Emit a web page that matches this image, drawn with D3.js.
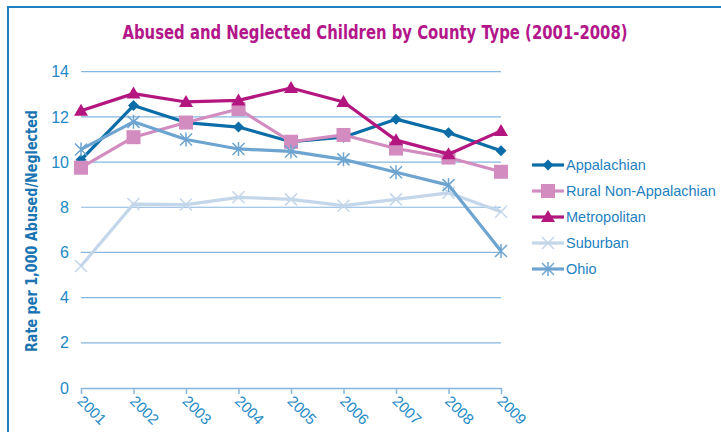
<!DOCTYPE html>
<html lang="en">
<head>
  <meta charset="utf-8">
  <title>Abused and Neglected Children by County Type</title>
  <script src="https://d3js.org/d3.v7.min.js"></script>
  <style>
    body { margin: 0; background: #fff; }
    svg { display: block; }
  </style>
</head>
<body>
  <svg width="721" height="432"></svg>
  <script>
    // values
    const years = [2001, 2002, 2003, 2004, 2005, 2006, 2007, 2008, 2009];
    const appalachian = [10.1, 12.5, 11.75, 11.55, 10.9, 11.1, 11.9, 11.3, 10.5];
    const ruralNonApp = [9.75, 11.1, 11.75, 12.35, 10.9, 11.2, 10.6, 10.2, 9.57];
    const metropolitan = [12.27, 13.03, 12.66, 12.73, 13.28, 12.66, 10.97, 10.35, 11.38];
    const suburban = [5.4, 8.14, 8.12, 8.44, 8.35, 8.07, 8.35, 8.64, 7.8];
    const ohio = [10.56, 11.78, 11.0, 10.58, 10.47, 10.12, 9.55, 8.98, 6.06];
    const yTicks = [0, 2, 4, 6, 8, 10, 12, 14];

    const series = [
      { name: "Appalachian", values: appalachian, color: "#0b6da8", marker: "diamond" },
      { name: "Rural Non-Appalachian", values: ruralNonApp, color: "#d28cbf", marker: "square" },
      { name: "Metropolitan", values: metropolitan, color: "#b3167f", marker: "triangle" },
      { name: "Suburban", values: suburban, color: "#c3d6ea", marker: "x" },
      { name: "Ohio", values: ohio, color: "#6ea4d0", marker: "star" }
    ];

    const svg = d3.select("svg");
    const textBlue = "#2389c6";
    const gridBlue = "#86b6dc";
    const narrow = "'DejaVu Sans Condensed', 'Liberation Sans', sans-serif";

    // frame
    svg.append("path")
      .attr("d", "M8,440 V7 H730")
      .attr("fill", "none")
      .attr("stroke", "#1f7fc0")
      .attr("stroke-width", 2);

    svg.append("text")
      .attr("x", 375).attr("y", 39)
      .attr("text-anchor", "middle")
      .attr("font-family", narrow)
      .attr("font-weight", "bold")
      .attr("font-size", 19)
      .attr("textLength", 505)
      .attr("lengthAdjust", "spacingAndGlyphs")
      .attr("fill", "#b3168a")
      .text("Abused and Neglected Children by County Type (2001-2008)");

    const x = d3.scalePoint().domain(years).range([81, 501]);
    const y = d3.scaleLinear().domain([0, 14]).range([388, 71.7]);

    // grid
    svg.append("g")
      .selectAll("line")
      .data(yTicks.filter(d => d > 0))
      .join("line")
      .attr("x1", 81).attr("x2", 501)
      .attr("y1", d => y(d)).attr("y2", d => y(d))
      .attr("stroke", gridBlue)
      .attr("stroke-width", 1.2);

    // y axis labels
    const yAxis = svg.append("g")
      .attr("transform", "translate(81,0)")
      .call(d3.axisLeft(y).tickValues(yTicks).tickSize(0).tickPadding(12));
    yAxis.select(".domain").remove();
    yAxis.selectAll("text")
      .attr("font-family", "'Liberation Sans', Arial, sans-serif")
      .attr("font-size", 16)
      .attr("fill", textBlue);

    // x axis
    const xAxis = svg.append("g")
      .attr("transform", "translate(0,388)")
      .call(d3.axisBottom(x).tickSizeOuter(0).tickSizeInner(6).tickFormat(d3.format("d")));
    xAxis.select(".domain").attr("stroke", gridBlue).attr("stroke-width", 1.5);
    xAxis.selectAll("line").attr("stroke", gridBlue).attr("stroke-width", 1.5);
    xAxis.selectAll("text")
      .attr("font-family", "'Liberation Sans', Arial, sans-serif")
      .attr("font-size", 15)
      .attr("fill", textBlue)
      .attr("text-anchor", "start")
      .attr("dy", null)
      .attr("y", 0)
      .attr("transform", "translate(-5,14) rotate(45)");

    // y axis title
    svg.append("text")
      .attr("transform", "translate(37,231) rotate(-90)")
      .attr("text-anchor", "middle")
      .attr("font-family", narrow)
      .attr("font-weight", "bold")
      .attr("font-size", 16)
      .attr("textLength", 242)
      .attr("lengthAdjust", "spacingAndGlyphs")
      .attr("fill", "#1b74b2")
      .text("Rate per 1,000 Abused/Neglected");

    function drawMarker(g, type, color) {
      if (type === "diamond") {
        g.append("path").attr("d", "M0,-5.5 L5.5,0 L0,5.5 L-5.5,0 Z").attr("fill", color);
      } else if (type === "square") {
        g.append("rect").attr("x", -7).attr("y", -7).attr("width", 14).attr("height", 14).attr("fill", color);
      } else if (type === "triangle") {
        g.append("path").attr("d", "M0,-7 L7,5 L-7,5 Z").attr("fill", color);
      } else if (type === "x") {
        g.append("path").attr("d", "M-6,-6 L6,6 M-6,6 L6,-6").attr("stroke", color).attr("stroke-width", 1.5);
      } else if (type === "star") {
        g.append("path").attr("d", "M-6,-6 L6,6 M-6,6 L6,-6 M0,-7 V7").attr("stroke", color).attr("stroke-width", 1.5);
      }
    }

    const line = d3.line().x((d, i) => x(years[i])).y(d => y(d));

    series.forEach(s => {
      const g = svg.append("g");
      g.append("path")
        .datum(s.values)
        .attr("d", line)
        .attr("fill", "none")
        .attr("stroke", s.color)
        .attr("stroke-width", 3.2)
        .attr("stroke-linejoin", "round");
      s.values.forEach((v, i) => {
        const m = g.append("g").attr("transform", `translate(${x(years[i])},${y(v)})`);
        drawMarker(m, s.marker, s.color);
      });
    });

    // legend
    const legend = svg.append("g").attr("transform", "translate(532,165)");
    series.forEach((s, i) => {
      const row = legend.append("g").attr("transform", `translate(0,${i * 26})`);
      row.append("line")
        .attr("x1", 0).attr("x2", 32)
        .attr("stroke", s.color).attr("stroke-width", 3.2);
      const m = row.append("g").attr("transform", "translate(16,0)");
      drawMarker(m, s.marker, s.color);
      row.append("text")
        .attr("x", 34).attr("y", 0).attr("dy", "0.35em")
        .attr("font-family", "'Liberation Sans', Arial, sans-serif")
        .attr("font-size", 14.5)
        .attr("fill", "#1f7fc0")
        .text(s.name);
    });
  </script>
</body>
</html>
